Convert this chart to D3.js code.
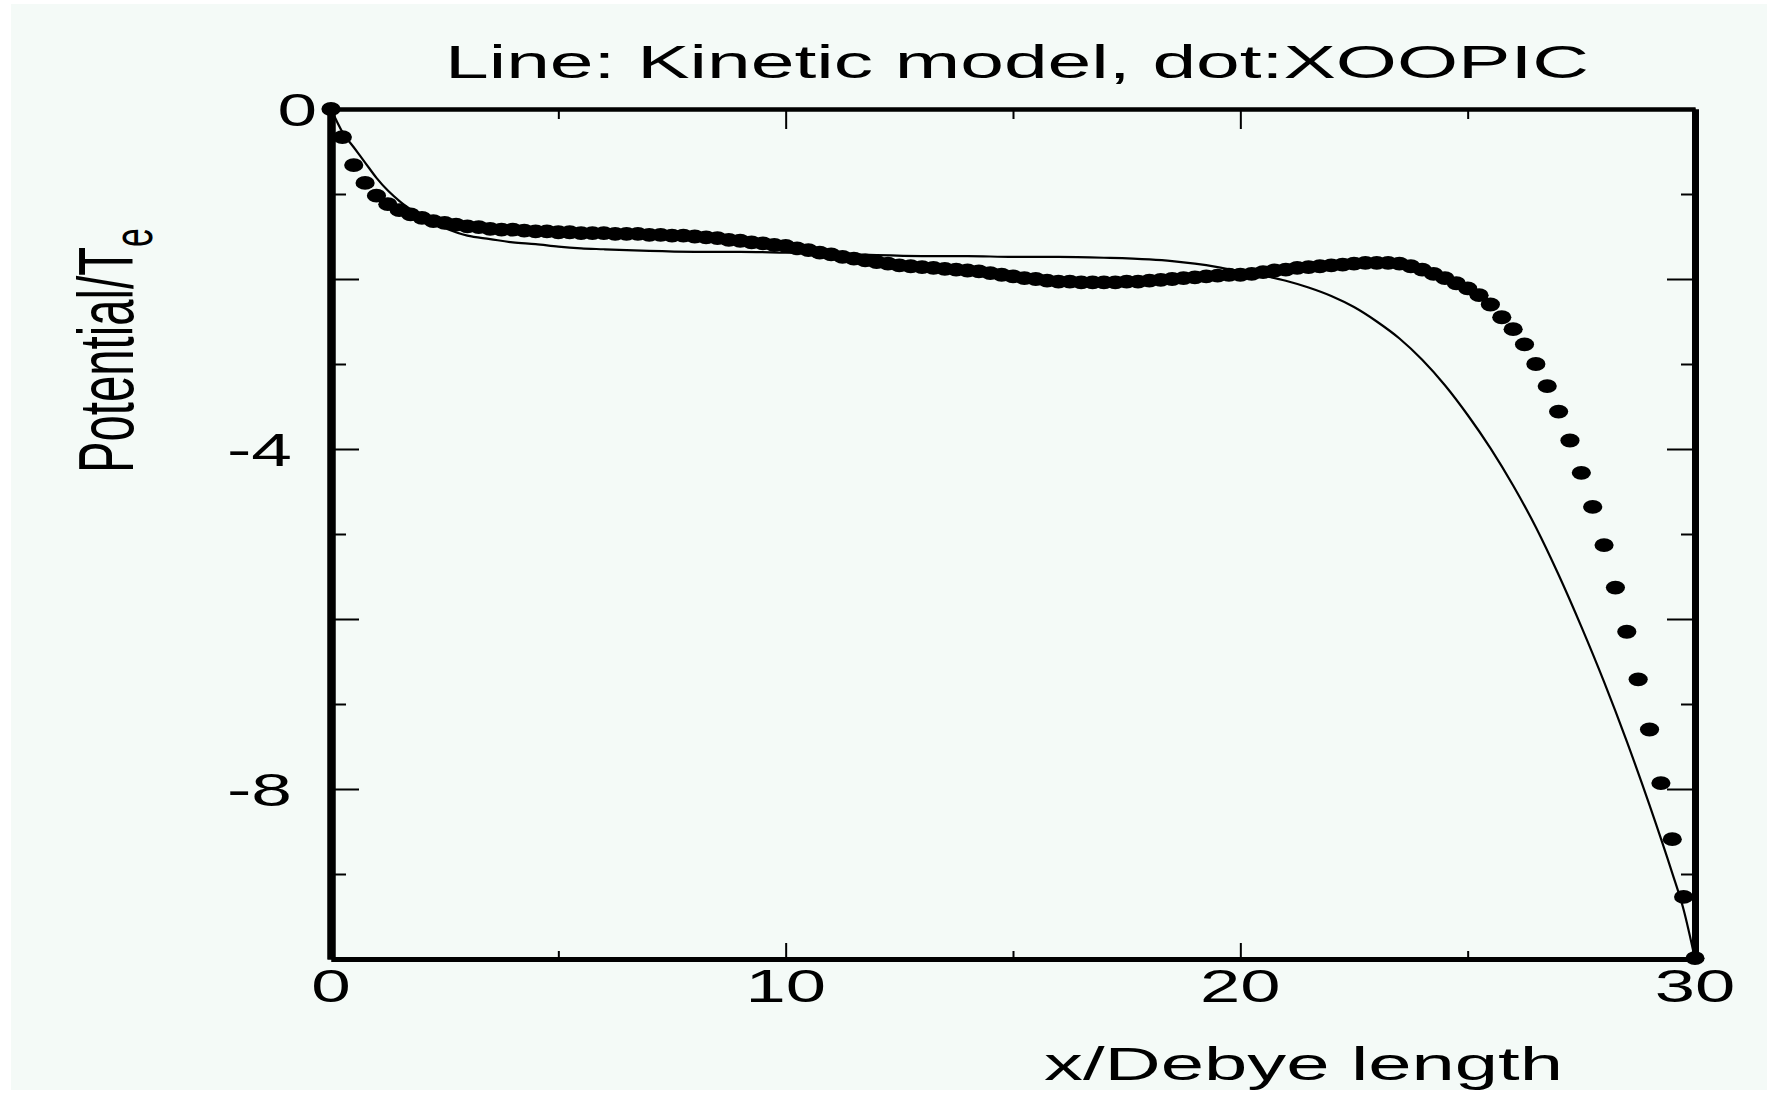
<!DOCTYPE html>
<html>
<head>
<meta charset="utf-8">
<script src="https://cdn.jsdelivr.net/npm/d3@7"></script>
<style>
  html, body { margin: 0; padding: 0; background: #ffffff; }
  svg { display: block; }
  text { font-family: "Liberation Sans", Arial, Helvetica, sans-serif; fill: #000; }
</style>
</head>
<body>
<svg id="chart" width="1767" height="1093"></svg>
<script>
// ---- text ----
const titleText = "Line: Kinetic model, dot:XOOPIC";
const xLabelText = "x/Debye length";
const yLabelMain = "Potential/T";
const yLabelSub = "e";

// ---- ticks ----
const xTickLabels = [0, 10, 20, 30];
const xMinorTicks = [5, 15, 25];
const yTickLabels = [0, -4, -8];
const yLongTicks = [-2, -4, -6, -8];
const yShortTicks = [-1, -3, -5, -7, -9];

// ---- kinetic model (solid line) ----
const kineticX = [0, 0.25, 0.5, 0.75, 1.0, 1.25, 1.5, 1.75, 2.0, 2.5, 3.0, 3.5, 4.0, 4.5, 5.0, 5.5,
  6.0, 6.5, 7.0, 8.0, 9.0, 10.0, 11.0, 12.0, 13.0, 14.0, 15.0, 16.0, 17.0, 18.0, 18.5, 19.0,
  19.5, 20.0, 20.5, 21.0, 21.5, 22.0, 22.5, 23.0, 23.5, 24.0, 24.5, 25.0, 25.5, 26.0, 26.5,
  27.0, 27.5, 28.0, 28.5, 29.0, 29.5, 29.75, 30.0];
const kineticPhi = [0, -0.27, -0.45, -0.63, -0.81, -0.96, -1.08, -1.18, -1.27, -1.40, -1.49, -1.53, -1.57, -1.59, -1.62, -1.64,
  -1.65, -1.66, -1.67, -1.68, -1.68, -1.69, -1.70, -1.72, -1.73, -1.73, -1.74, -1.74, -1.75, -1.77, -1.79, -1.82,
  -1.86, -1.91, -1.96, -2.02, -2.10, -2.20, -2.33, -2.50, -2.70, -2.95, -3.25, -3.60, -3.99, -4.43, -4.92,
  -5.48, -6.09, -6.74, -7.44, -8.19, -8.99, -9.42, -10.0];

// ---- XOOPIC particle simulation (dots) ----
const xoopicX = [0, 0.25, 0.5, 0.75, 1, 1.25, 1.5, 1.75, 2, 2.25, 2.5, 2.75, 3, 3.25, 3.5, 3.75,
  4, 4.25, 4.5, 4.75, 5, 5.25, 5.5, 5.75, 6, 6.25, 6.5, 6.75, 7, 7.25, 7.5, 7.75,
  8, 8.25, 8.5, 8.75, 9, 9.25, 9.5, 9.75, 10, 10.25, 10.5, 10.75, 11, 11.25, 11.5, 11.75,
  12, 12.25, 12.5, 12.75, 13, 13.25, 13.5, 13.75, 14, 14.25, 14.5, 14.75, 15, 15.25, 15.5, 15.75,
  16, 16.25, 16.5, 16.75, 17, 17.25, 17.5, 17.75, 18, 18.25, 18.5, 18.75, 19, 19.25, 19.5, 19.75,
  20, 20.25, 20.5, 20.75, 21, 21.25, 21.5, 21.75, 22, 22.25, 22.5, 22.75, 23, 23.25, 23.5, 23.75,
  24, 24.25, 24.5, 24.75, 25, 25.25, 25.5, 25.75, 26, 26.25, 26.5, 26.75, 27, 27.25, 27.5, 27.75,
  28, 28.25, 28.5, 28.75, 29, 29.25, 29.5, 29.75, 30];
const xoopicPhi = [0, -0.33, -0.66, -0.87, -1.02, -1.12, -1.19, -1.24, -1.28, -1.32, -1.34, -1.36, -1.38, -1.39, -1.41, -1.42,
  -1.42, -1.43, -1.44, -1.44, -1.45, -1.45, -1.46, -1.46, -1.46, -1.47, -1.47, -1.47, -1.48, -1.48, -1.49, -1.49,
  -1.50, -1.51, -1.52, -1.54, -1.55, -1.57, -1.58, -1.60, -1.61, -1.64, -1.66, -1.69, -1.71, -1.74, -1.76, -1.78,
  -1.80, -1.82, -1.84, -1.85, -1.86, -1.87, -1.88, -1.89, -1.90, -1.91, -1.93, -1.95, -1.97, -1.99, -2.00, -2.02,
  -2.03, -2.03, -2.04, -2.04, -2.04, -2.04, -2.03, -2.03, -2.02, -2.01, -2.00, -1.99, -1.98, -1.97, -1.96, -1.95,
  -1.95, -1.94, -1.92, -1.90, -1.89, -1.87, -1.86, -1.85, -1.84, -1.83, -1.82, -1.81, -1.81, -1.81, -1.82, -1.85,
  -1.89, -1.94, -1.99, -2.05, -2.11, -2.19, -2.30, -2.45, -2.59, -2.77, -3.00, -3.26, -3.56, -3.90, -4.28, -4.68,
  -5.13, -5.63, -6.15, -6.71, -7.30, -7.93, -8.59, -9.27, -9.99];

// ---- layout ----
const W = 1767, H = 1093;
const plot = { left: 331, right: 1695, top: 109, bottom: 959 };

const svg = d3.select("#chart");

// page background panel
svg.append("rect")
  .attr("x", 11).attr("y", 4)
  .attr("width", W - 11).attr("height", 1086)
  .attr("fill", "#f4faf7");

const x = d3.scaleLinear().domain([0, 30]).range([plot.left, plot.right]);
const y = d3.scaleLinear().domain([-10, 0]).range([plot.bottom, plot.top]);

// kinetic model curve
const kinetic = kineticX.map((v, i) => ({ x: v, phi: kineticPhi[i] }));
svg.append("path")
  .datum(kinetic)
  .attr("fill", "none")
  .attr("stroke", "#000")
  .attr("stroke-width", 2.2)
  .attr("d", d3.line().x(d => x(d.x)).y(d => y(d.phi)).curve(d3.curveMonotoneX));

// XOOPIC markers
const xoopic = xoopicX.map((v, i) => ({ x: v, phi: xoopicPhi[i] }));
svg.append("g")
  .selectAll("ellipse")
  .data(xoopic)
  .join("ellipse")
  .attr("cx", d => x(d.x))
  .attr("cy", d => y(d.phi))
  .attr("rx", 9.6)
  .attr("ry", 6.9)
  .attr("fill", "#000");

// ---- axes: inward ticks on all four sides ----
function styleAxis(g, width) {
  g.select(".domain").attr("stroke", "#000").attr("stroke-width", width);
  g.selectAll(".tick line").attr("stroke", "#000").attr("stroke-width", 2);
  g.selectAll(".tick text").remove();
}

// bottom
svg.append("g").attr("transform", `translate(0,${plot.bottom})`)
  .call(d3.axisBottom(x).tickValues([10, 20]).tickSize(-16).tickSizeOuter(0))
  .call(g => styleAxis(g, 5));
svg.append("g").attr("transform", `translate(0,${plot.bottom})`)
  .call(d3.axisBottom(x).tickValues(xMinorTicks).tickSize(-8).tickSizeOuter(0))
  .call(g => styleAxis(g, 5));

// top
svg.append("g").attr("transform", `translate(0,${plot.top})`)
  .call(d3.axisTop(x).tickValues([10, 20]).tickSize(-20).tickSizeOuter(0))
  .call(g => styleAxis(g, 4));
svg.append("g").attr("transform", `translate(0,${plot.top})`)
  .call(d3.axisTop(x).tickValues(xMinorTicks).tickSize(-10).tickSizeOuter(0))
  .call(g => styleAxis(g, 4));

// left
svg.append("g").attr("transform", `translate(${plot.left},0)`)
  .call(d3.axisLeft(y).tickValues(yLongTicks).tickSize(-28).tickSizeOuter(0))
  .call(g => styleAxis(g, 8));
svg.append("g").attr("transform", `translate(${plot.left},0)`)
  .call(d3.axisLeft(y).tickValues(yShortTicks).tickSize(-15).tickSizeOuter(0))
  .call(g => styleAxis(g, 8));

// right
svg.append("g").attr("transform", `translate(${plot.right},0)`)
  .call(d3.axisRight(y).tickValues(yLongTicks).tickSize(-28).tickSizeOuter(0))
  .call(g => styleAxis(g, 7));
svg.append("g").attr("transform", `translate(${plot.right},0)`)
  .call(d3.axisRight(y).tickValues(yShortTicks).tickSize(-14).tickSizeOuter(0))
  .call(g => styleAxis(g, 7));

// ---- tick labels (wide digits) ----
const digitW = 39.5;
svg.append("g")
  .selectAll("text")
  .data(xTickLabels)
  .join("text")
  .attr("x", d => x(d))
  .attr("y", plot.bottom + 43)
  .attr("text-anchor", "middle")
  .attr("font-size", 47)
  .attr("textLength", d => String(d).length * digitW + (String(d).length - 1) * 1.5)
  .attr("lengthAdjust", "spacingAndGlyphs")
  .text(d => String(d));

svg.append("g")
  .selectAll("text")
  .data(yTickLabels)
  .join("text")
  .attr("x", d => d < 0 ? plot.left - 39 : plot.left - 14)
  .attr("y", d => y(d) + 17)
  .attr("text-anchor", "end")
  .attr("font-size", 47)
  .attr("textLength", d => d < 0 ? 65 : digitW)
  .attr("lengthAdjust", "spacingAndGlyphs")
  .text(d => String(d));

// ---- title and axis labels ----
svg.append("text")
  .attr("x", 445).attr("y", 78)
  .attr("font-size", 46)
  .attr("textLength", 1144)
  .attr("lengthAdjust", "spacingAndGlyphs")
  .text(titleText);

svg.append("text")
  .attr("x", 1044).attr("y", 1080)
  .attr("font-size", 46)
  .attr("textLength", 519)
  .attr("lengthAdjust", "spacingAndGlyphs")
  .text(xLabelText);

// rotated, narrow y label with subscript
const yLab = svg.append("g").attr("transform", "translate(133,473) rotate(-90)");
const yLabText = yLab.append("text").attr("font-size", 78);
yLabText.append("tspan").text(yLabelMain);
yLabText.append("tspan").attr("font-size", 56).attr("dy", 19).text(yLabelSub);
const natural = yLabText.node().getBBox().width;
yLabText.attr("transform", `scale(${245 / natural},1)`);
</script>
</body>
</html>
